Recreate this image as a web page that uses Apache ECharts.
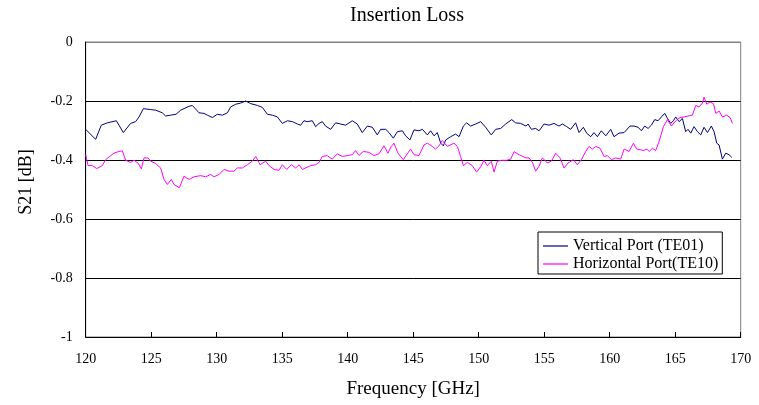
<!DOCTYPE html>
<html>
<head>
<meta charset="utf-8">
<script src="https://cdn.jsdelivr.net/npm/echarts@6/dist/echarts.min.js"></script>
<style>
html,body{margin:0;padding:0;background:#fff;}
#chart{width:759px;height:405px;}
</style>
</head>
<body>
<div id="chart"></div>
<script>
// ---- data ----
const chartTitle = 'Insertion Loss';
const xAxisName = 'Frequency [GHz]';
const yAxisName = 'S21 [dB]';
const seriesNames = ['Vertical Port (TE01)', 'Horizontal Port(TE10)'];
const xTicks = [120, 125, 130, 135, 140, 145, 150, 155, 160, 165, 170];
const yTicks = [0, -0.2, -0.4, -0.6, -0.8, -1];

const vertFreq = [120.0,120.76,121.19,121.65,122.34,122.87,123.43,123.81,124.07,124.40,124.96,125.34,125.85,126.10,126.49,126.90,127.25,127.89,128.14,128.65,129.03,129.29,129.67,130.05,130.43,130.82,131.07,131.45,131.83,132.21,132.60,133.11,133.49,133.87,134.25,134.63,135.01,135.40,135.78,136.16,136.41,136.66,136.91,137.30,137.55,137.81,138.06,138.31,138.70,139.08,139.46,139.84,140.35,140.73,141.11,141.50,141.88,142.26,142.51,142.90,143.15,143.48,143.79,144.17,144.42,144.75,145.06,145.44,145.70,146.08,146.33,146.59,146.84,147.10,147.30,147.48,147.86,148.24,148.50,148.83,149.08,149.39,149.77,150.15,150.53,150.96,151.30,151.68,152.06,152.52,152.82,153.20,153.61,153.77,154.02,154.35,154.61,154.99,155.37,155.75,156.13,156.39,156.72,157.02,157.40,157.66,157.99,158.24,158.55,158.80,159.06,159.36,159.70,160.08,160.33,160.71,161.10,161.55,161.86,162.17,162.42,162.67,162.93,163.18,163.44,163.69,163.95,164.20,164.41,164.66,164.86,165.04,165.30,165.55,165.80,165.98,166.19,166.44,166.70,166.95,167.20,167.46,167.76,167.97,168.17,168.35,168.60,168.86,169.11,169.32];
const vertLoss = [-0.296,-0.330,-0.282,-0.274,-0.267,-0.307,-0.276,-0.270,-0.254,-0.226,-0.229,-0.231,-0.240,-0.251,-0.248,-0.245,-0.231,-0.218,-0.215,-0.240,-0.242,-0.248,-0.256,-0.245,-0.248,-0.240,-0.220,-0.211,-0.207,-0.200,-0.209,-0.215,-0.222,-0.245,-0.248,-0.254,-0.276,-0.267,-0.270,-0.278,-0.282,-0.267,-0.270,-0.267,-0.287,-0.276,-0.270,-0.285,-0.296,-0.274,-0.278,-0.282,-0.267,-0.278,-0.307,-0.285,-0.289,-0.315,-0.296,-0.296,-0.307,-0.326,-0.304,-0.301,-0.318,-0.332,-0.298,-0.301,-0.296,-0.315,-0.301,-0.318,-0.307,-0.343,-0.352,-0.332,-0.321,-0.312,-0.321,-0.285,-0.274,-0.285,-0.278,-0.270,-0.289,-0.315,-0.296,-0.293,-0.278,-0.263,-0.274,-0.276,-0.285,-0.278,-0.296,-0.293,-0.301,-0.278,-0.282,-0.276,-0.285,-0.278,-0.287,-0.296,-0.274,-0.307,-0.289,-0.309,-0.321,-0.307,-0.321,-0.301,-0.318,-0.296,-0.321,-0.309,-0.307,-0.285,-0.285,-0.289,-0.301,-0.285,-0.293,-0.282,-0.263,-0.267,-0.254,-0.242,-0.259,-0.276,-0.267,-0.254,-0.270,-0.259,-0.304,-0.296,-0.309,-0.287,-0.304,-0.315,-0.289,-0.307,-0.285,-0.304,-0.343,-0.349,-0.397,-0.377,-0.382,-0.391];

const horzFreq = [120.0,120.18,120.51,120.84,121.27,121.52,121.91,122.16,122.54,122.80,123.05,123.43,123.69,123.99,124.25,124.45,124.76,124.96,125.34,125.72,125.98,126.23,126.54,126.74,127.15,127.50,127.89,128.27,128.78,129.16,129.54,129.80,130.18,130.56,130.94,131.32,131.58,131.96,132.34,132.72,132.98,133.31,133.74,134.00,134.38,134.76,135.01,135.35,135.70,136.03,136.29,136.54,136.66,137.17,137.55,137.81,138.06,138.44,138.82,139.21,139.59,139.97,140.35,140.60,140.86,141.19,141.62,142.00,142.39,142.77,143.07,143.33,143.53,143.84,144.24,144.55,144.80,145.06,145.44,145.82,146.08,146.46,146.71,146.97,147.22,147.61,148.11,148.37,148.62,148.83,149.13,149.51,149.84,150.15,150.40,150.66,150.96,151.17,151.42,151.73,152.13,152.44,152.70,153.08,153.61,153.84,154.10,154.35,154.61,154.86,155.24,155.55,155.88,156.21,156.51,156.82,157.23,157.53,157.84,158.17,158.42,158.68,158.93,159.26,159.57,159.82,160.13,160.46,160.84,161.10,161.48,161.81,162.06,162.32,162.57,162.83,163.01,163.26,163.51,163.77,164.10,164.41,164.71,165.04,165.37,165.68,165.98,166.31,166.57,166.82,167.08,167.20,167.41,167.66,167.92,168.10,168.35,168.60,168.93,169.19,169.37];
const horzLoss = [-0.382,-0.419,-0.419,-0.429,-0.419,-0.399,-0.385,-0.377,-0.371,-0.369,-0.401,-0.408,-0.401,-0.410,-0.430,-0.393,-0.393,-0.404,-0.412,-0.427,-0.466,-0.483,-0.466,-0.483,-0.494,-0.455,-0.466,-0.457,-0.453,-0.457,-0.449,-0.457,-0.449,-0.432,-0.438,-0.438,-0.427,-0.427,-0.416,-0.404,-0.388,-0.416,-0.404,-0.419,-0.432,-0.435,-0.416,-0.432,-0.416,-0.427,-0.416,-0.432,-0.438,-0.419,-0.416,-0.408,-0.388,-0.385,-0.397,-0.379,-0.388,-0.385,-0.382,-0.368,-0.385,-0.371,-0.374,-0.385,-0.379,-0.352,-0.377,-0.354,-0.343,-0.377,-0.399,-0.379,-0.363,-0.382,-0.385,-0.349,-0.343,-0.354,-0.363,-0.352,-0.334,-0.354,-0.343,-0.354,-0.388,-0.419,-0.408,-0.419,-0.441,-0.423,-0.401,-0.419,-0.404,-0.441,-0.404,-0.401,-0.401,-0.397,-0.372,-0.382,-0.393,-0.393,-0.408,-0.438,-0.421,-0.393,-0.410,-0.404,-0.377,-0.393,-0.427,-0.410,-0.399,-0.416,-0.399,-0.371,-0.354,-0.363,-0.354,-0.360,-0.388,-0.385,-0.399,-0.393,-0.397,-0.363,-0.371,-0.343,-0.363,-0.365,-0.368,-0.363,-0.371,-0.360,-0.368,-0.337,-0.287,-0.263,-0.285,-0.267,-0.256,-0.254,-0.251,-0.248,-0.215,-0.220,-0.207,-0.187,-0.211,-0.203,-0.209,-0.242,-0.234,-0.254,-0.248,-0.256,-0.276];

// ---- chart ----
const serif = '"Liberation Serif", "DejaVu Serif", serif';
const chart = echarts.init(document.getElementById('chart'), null, {renderer: 'canvas'});
const toPairs = (xs, ys) => xs.map((x, i) => [x, ys[i]]);

chart.setOption({
  animation: false,
  backgroundColor: '#ffffff',
  graphic: [
    {type: 'text', x: 407, y: 16, style: {text: chartTitle, font: '20px ' + serif, fill: '#000', align: 'center', verticalAlign: 'middle'}},
    {type: 'text', x: 26, y: 182, rotation: Math.PI / 2, style: {text: yAxisName, font: '18px ' + serif, fill: '#000', align: 'center', verticalAlign: 'middle'}}
  ],
  grid: {left: 85.7, right: 18.3, top: 42, bottom: 68, show: true, borderColor: '#808080', borderWidth: 1, backgroundColor: 'transparent'},
  legend: {
    orient: 'vertical', left: 538, top: 232,
    padding: [6, 4, 2, 5], itemGap: 2, itemWidth: 25, itemHeight: 1.2,
    icon: 'rect',
    backgroundColor: '#fff', borderColor: '#000', borderWidth: 1, borderRadius: 0,
    textStyle: {fontFamily: serif, fontSize: 16, color: '#000', lineHeight: 16, padding: [0, 0, 0, 0]},
    data: seriesNames
  },
  xAxis: {
    type: 'value', min: xTicks[0], max: xTicks[xTicks.length - 1], interval: 5,
    name: xAxisName, nameLocation: 'middle', nameGap: 43,
    nameTextStyle: {fontFamily: serif, fontSize: 19, color: '#000'},
    axisLine: {show: true, onZero: false, lineStyle: {color: '#000', width: 1}},
    axisTick: {show: true, inside: true, length: 5, lineStyle: {color: '#000'}},
    axisLabel: {fontFamily: serif, fontSize: 14, color: '#000', margin: 15},
    splitLine: {show: false}
  },
  yAxis: {
    type: 'value', min: yTicks[yTicks.length - 1], max: yTicks[0], interval: 0.2,
    axisLine: {show: true, onZero: false, lineStyle: {color: '#000', width: 1}},
    axisTick: {show: false},
    axisLabel: {fontFamily: serif, fontSize: 14, color: '#000', margin: 13,
      formatter: v => String(+v.toFixed(1))},
    splitLine: {show: true, lineStyle: {color: ['#000', '#000', '#000', '#000', '#000', '#808080'], width: 1}}
  },
  series: [
    {name: seriesNames[0], type: 'line', showSymbol: false, symbol: 'none',
     lineStyle: {color: '#000080', width: 1}, itemStyle: {color: '#000080'},
     data: toPairs(vertFreq, vertLoss)},
    {name: seriesNames[1], type: 'line', showSymbol: false, symbol: 'none',
     lineStyle: {color: '#ff00ff', width: 1}, itemStyle: {color: '#ff00ff'},
     data: toPairs(horzFreq, horzLoss)}
  ]
});
</script>
</body>
</html>
